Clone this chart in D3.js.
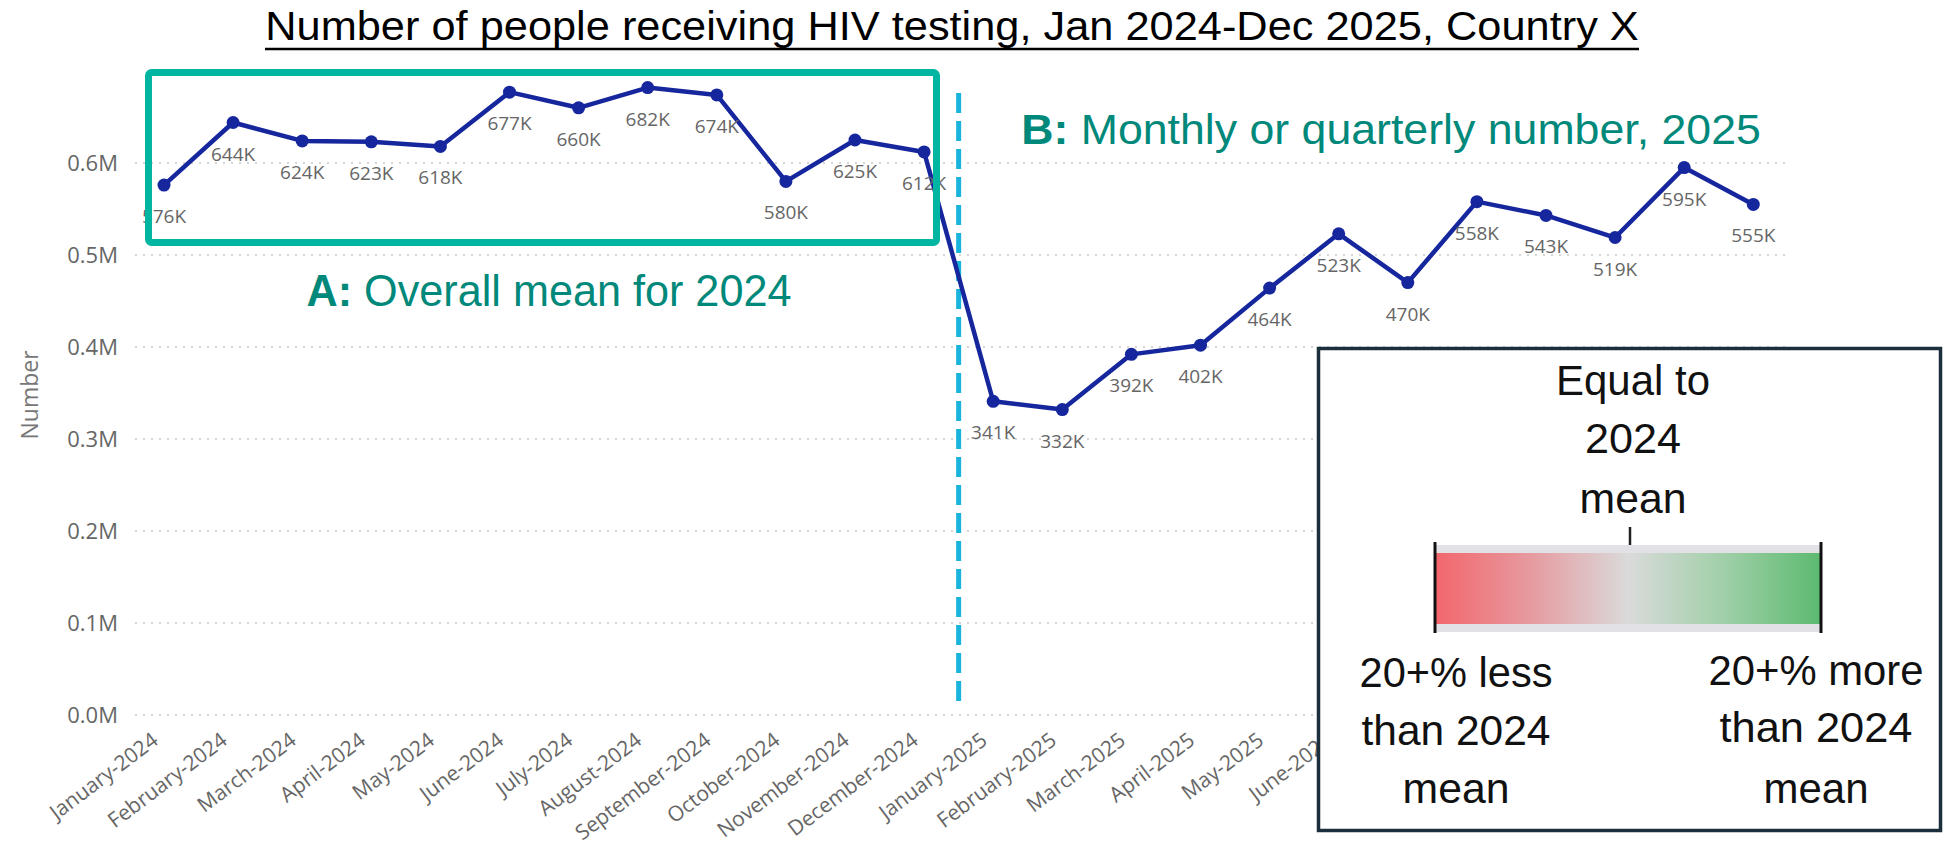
<!DOCTYPE html>
<html>
<head>
<meta charset="utf-8">
<script src="https://cdn.jsdelivr.net/npm/d3@7"></script>
<style>
  body { margin: 0; background: #fff; }
  svg { display: block; }
</style>
</head>
<body>
<svg></svg>
<script>
var width = 1956,
    height = 845;

// data
var months = ["January-2024", "February-2024", "March-2024", "April-2024", "May-2024", "June-2024",
    "July-2024", "August-2024", "September-2024", "October-2024", "November-2024", "December-2024",
    "January-2025", "February-2025", "March-2025", "April-2025", "May-2025", "June-2025",
    "July-2025", "August-2025", "September-2025", "October-2025", "November-2025", "December-2025"];
var values2024 = [576, 644, 624, 623, 618, 677, 660, 682, 674, 580, 625, 612];
var values2025 = [341, 332, 392, 402, 464, 523, 470, 558, 543, 519, 595, 555];
var yTicks = [0, 100000, 200000, 300000, 400000, 500000, 600000];

var titleText = "Number of people receiving HIV testing, Jan 2024-Dec 2025, Country X";
var legendTop = ["Equal to", "2024", "mean"];
var legendLeft = ["20+% less", "than 2024", "mean"];
var legendRight = ["20+% more", "than 2024", "mean"];

var values = values2024.concat(values2025).map(function (v) { return v * 1000; });
var data = months.map(function (m, i) { return { month: m, value: values[i] }; });

var calibri = "'Liberation Sans Narrow', 'Liberation Sans', sans-serif";
var segoe = "'Open Sans', 'Noto Sans', sans-serif";

var svg = d3.select("svg")
    .attr("width", width)
    .attr("height", height);

var defs = svg.append("defs");

var x = d3.scalePoint()
    .domain(months)
    .range([164, 164 + 23 * 69.1]);

var y = d3.scaleLinear()
    .domain([0, 600000])
    .range([715, 163]);

// squeeze/stretch a text so it spans the measured width
function fitText(sel, cx, w) {
    var len = sel.node().getBBox().width;
    sel.attr("x", 0)
        .attr("text-anchor", "middle")
        .attr("transform", "translate(" + cx + ",0) scale(" + (w / len) + ",1)");
}

// gridlines
svg.append("g")
    .selectAll("line")
    .data(yTicks)
    .enter()
    .append("line")
    .attr("x1", 135)
    .attr("x2", 1785)
    .attr("y1", function (d) { return y(d); })
    .attr("y2", function (d) { return y(d); })
    .attr("stroke", "#c8c8c8")
    .attr("stroke-width", 1.5)
    .attr("stroke-dasharray", "2,6");

// y axis
var yAxis = svg.append("g")
    .attr("transform", "translate(120,0)")
    .call(d3.axisLeft(y).tickValues(yTicks).tickSize(0).tickPadding(2)
        .tickFormat(function (d) { return (d / 1e6).toFixed(1) + "M"; }));
yAxis.select(".domain").remove();
yAxis.selectAll("text")
    .attr("font-family", segoe)
    .attr("font-size", 22)
    .attr("fill", "#666");

svg.append("text")
    .attr("transform", "translate(38,395) rotate(-90)")
    .attr("text-anchor", "middle")
    .attr("font-family", segoe)
    .attr("font-size", 23)
    .attr("fill", "#777")
    .text("Number");

// x axis, hidden where the legend picture sits on top of it
defs.append("clipPath")
    .attr("id", "axisClip")
    .append("rect")
    .attr("x", 0).attr("y", 0)
    .attr("width", 1317).attr("height", height);

var xAxis = svg.append("g")
    .attr("clip-path", "url(#axisClip)")
    .append("g")
    .attr("transform", "translate(0,715)")
    .call(d3.axisBottom(x).tickSize(0));
xAxis.select(".domain").remove();
xAxis.selectAll("text")
    .attr("x", 0)
    .attr("y", 0)
    .attr("dy", 0)
    .attr("text-anchor", "end")
    .attr("transform", "translate(-5,28) rotate(-37)")
    .attr("font-family", segoe)
    .attr("font-size", 21)
    .attr("fill", "#666");

// gray shadow behind the divider
defs.append("filter")
    .attr("id", "blur")
    .append("feGaussianBlur")
    .attr("stdDeviation", 1.5);

var divX = (x("December-2024") + x("January-2025")) / 2;

svg.append("line")
    .attr("x1", divX - 2).attr("x2", divX - 2)
    .attr("y1", 100).attr("y2", 707)
    .attr("stroke", "#999")
    .attr("stroke-width", 4)
    .attr("stroke-dasharray", "18,44")
    .attr("stroke-dashoffset", -8)
    .attr("opacity", 0.6)
    .attr("filter", "url(#blur)");

svg.append("line")
    .attr("x1", divX).attr("x2", divX)
    .attr("y1", 93).attr("y2", 707)
    .attr("stroke", "#18b4dd")
    .attr("stroke-width", 5)
    .attr("stroke-dasharray", "20,8");

// series line
var line = d3.line()
    .x(function (d) { return x(d.month); })
    .y(function (d) { return y(d.value); });

svg.append("path")
    .datum(data)
    .attr("d", line)
    .attr("fill", "none")
    .attr("stroke", "#16279e")
    .attr("stroke-width", 4.5)
    .attr("stroke-linejoin", "round");

svg.append("g")
    .selectAll("circle")
    .data(data)
    .enter()
    .append("circle")
    .attr("cx", function (d) { return x(d.month); })
    .attr("cy", function (d) { return y(d.value); })
    .attr("r", 6.5)
    .attr("fill", "#16279e");

svg.append("g")
    .selectAll("text")
    .data(data)
    .enter()
    .append("text")
    .attr("x", function (d) { return x(d.month); })
    .attr("y", function (d) { return y(d.value) + 38; })
    .attr("text-anchor", "middle")
    .attr("font-family", segoe)
    .attr("font-size", 19)
    .attr("fill", "#666")
    .text(function (d) { return Math.round(d.value / 1000) + "K"; });

// box A
svg.append("rect")
    .attr("x", 148.5)
    .attr("y", 72.5)
    .attr("width", 788)
    .attr("height", 170)
    .attr("rx", 3)
    .attr("fill", "none")
    .attr("stroke", "#00b5a2")
    .attr("stroke-width", 7);

var labA = svg.append("text")
    .attr("y", 306)
    .attr("font-family", calibri)
    .attr("font-size", 44)
    .attr("fill", "#00897a");
labA.append("tspan").attr("font-weight", "bold").text("A:");
labA.append("tspan").text(" Overall mean for 2024");
fitText(labA, 549, 485);

var labB = svg.append("text")
    .attr("y", 144)
    .attr("font-family", calibri)
    .attr("font-size", 42)
    .attr("fill", "#00897a");
labB.append("tspan").attr("font-weight", "bold").text("B:");
labB.append("tspan").text(" Monthly or quarterly number, 2025");
fitText(labB, 1391, 740);

// title
var title = svg.append("text")
    .attr("y", 40)
    .attr("font-family", calibri)
    .attr("font-size", 40)
    .attr("fill", "#000")
    .text(titleText);
fitText(title, 952, 1374);

svg.append("line")
    .attr("x1", 265).attr("x2", 1639)
    .attr("y1", 49).attr("y2", 49)
    .attr("stroke", "#000")
    .attr("stroke-width", 2.5);

// legend box
var lg = svg.append("g");

lg.append("rect")
    .attr("x", 1318.5)
    .attr("y", 348.5)
    .attr("width", 622)
    .attr("height", 482)
    .attr("fill", "#fff")
    .attr("stroke", "#1a2e3b")
    .attr("stroke-width", 3.5);

var grad = defs.append("linearGradient")
    .attr("id", "ramp");
grad.append("stop").attr("offset", "0%").attr("stop-color", "#f2666c");
grad.append("stop").attr("offset", "25%").attr("stop-color", "#e69ba0");
grad.append("stop").attr("offset", "50%").attr("stop-color", "#dadada");
grad.append("stop").attr("offset", "75%").attr("stop-color", "#a0cfa8");
grad.append("stop").attr("offset", "100%").attr("stop-color", "#5cba70");

lg.append("rect")
    .attr("x", 1435).attr("y", 545)
    .attr("width", 386).attr("height", 87)
    .attr("fill", "#e2e2e6");
lg.append("rect")
    .attr("x", 1435).attr("y", 553)
    .attr("width", 386).attr("height", 71)
    .attr("fill", "url(#ramp)");

lg.selectAll(".end")
    .data([1435, 1821])
    .enter()
    .append("line")
    .attr("x1", function (d) { return d; })
    .attr("x2", function (d) { return d; })
    .attr("y1", 542).attr("y2", 633)
    .attr("stroke", "#111")
    .attr("stroke-width", 3);

lg.append("line")
    .attr("x1", 1630).attr("x2", 1630)
    .attr("y1", 527).attr("y2", 545)
    .attr("stroke", "#222")
    .attr("stroke-width", 2.5);

function legendLines(lines, cx, widths, baselines) {
    lines.forEach(function (t, i) {
        var el = lg.append("text")
            .attr("y", baselines[i])
            .attr("font-family", calibri)
            .attr("font-size", 43)
            .attr("fill", "#111")
            .text(t);
        fitText(el, cx, widths[i]);
    });
}

legendLines(legendTop, 1633, [154, 96, 107], [395, 453, 513]);
legendLines(legendLeft, 1456, [193, 189, 107], [687, 745, 803]);
legendLines(legendRight, 1816, [215, 193, 105], [685, 742, 803]);
</script>
</body>
</html>
